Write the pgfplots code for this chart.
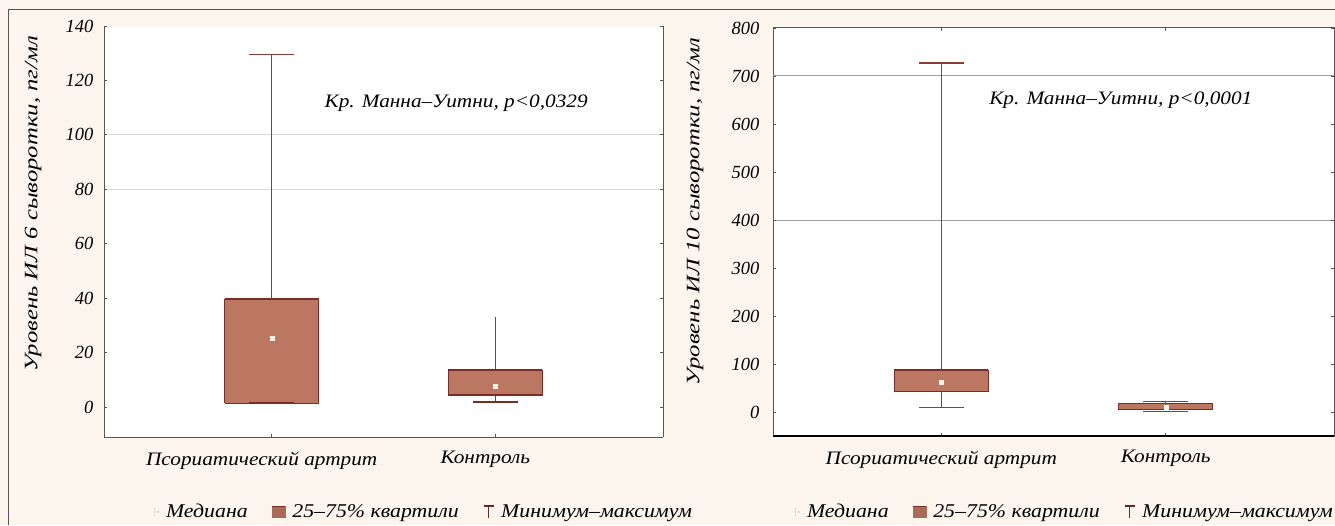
\documentclass[border=0pt]{standalone}
\usepackage{fontspec}
\setmainfont{Liberation Serif}
\newfontfamily\wideserif{Liberation Serif}[FakeStretch=1.12]
\newfontfamily\tallserif{Liberation Serif}[FakeStretch=1.3]
\usepackage{pgfplots}
\pgfplotsset{compat=1.18}
\definecolor{bg}{RGB}{251,245,237}
\definecolor{boxfill}{RGB}{187,119,98}
\definecolor{boxedge}{RGB}{120,45,38}
\definecolor{whisk}{RGB}{140,60,55}
\definecolor{spine}{RGB}{85,85,85}
\definecolor{gridc}{RGB}{215,215,215}
\definecolor{medc}{RGB}{255,246,230}
\newcommand{\fs}{\wideserif\fontsize{19}{22}\selectfont\itshape}
\newcommand{\fleg}{\wideserif\fontsize{19.5}{22}\selectfont\itshape}
\newcommand{\fyl}{\tallserif\fontsize{19}{22}\selectfont\itshape}
\newcommand{\fnum}{\rmfamily\fontsize{18.5}{20}\selectfont\itshape}
\pgfplotsset{
  mybox/.style={
    scale only axis,
    axis background/.style={fill=white},
    xmin=0.25, xmax=2.75,
    xtick={1,2},
    xticklabels={Псориатический артрит, Контроль},
    tick align=inside,
    major tick length=3pt,
    tick style={spine, line width=0.8pt},
    axis line style={spine, line width=1pt},
    yticklabel style={font=\fnum},
    xticklabel style={font=\fs},
    /pgf/number format/assume math mode=true,
    clip=false,
    major grid style={gridc, line width=1pt},
    extra y tick labels={},
    extra y tick style={grid=major},
    legend columns=3,
    legend cell align=left,
    legend style={draw=none, fill=none, font=\fleg,
      /tikz/every even column/.append style={column sep=22pt},
      /tikz/every odd column/.append style={column sep=5pt}},
  },
  boxst/.style={fill=boxfill, draw=boxedge, line width=0.8pt, forget plot},
  topst/.style={draw=boxedge, line width=1.5pt, forget plot},
  whst/.style={draw=whisk, line width=1.3pt, forget plot},
  medst/.style={forget plot, only marks, mark=square*, mark size=2pt,
    color=medc, mark options={fill=medc, draw=medc}},
  medimg/.style={legend image code/.code={
      \draw[gray!30, line width=0.8pt] (1pt,-4pt) -- (1pt,4pt);
      \fill[gray!35] (5pt,0pt) circle (0.9pt);}},
  quartimg/.style={legend image code/.code={
      \fill[boxfill!90!black] (0pt,-5.5pt) rectangle (13pt,5.5pt);
      \draw[boxedge, line width=0.6pt] (0pt,5.5pt) -- (13pt,5.5pt);}},
  whiskimg/.style={legend image code/.code={
      \draw[whisk!70!black, line width=1.4pt] (1pt,6pt) -- (11pt,6pt) (6pt,6pt) -- (6pt,-6pt);}},
}
\begin{document}
\begin{tikzpicture}
\fill[bg] (0pt,0pt) rectangle (1335pt,525pt);
\useasboundingbox (0pt,0pt) rectangle (1335pt,525pt);
\draw[spine, line width=1pt] (8pt,0pt) -- (8pt,515pt) -- (1335pt,515pt);

% ---------- left panel: IL-6
\begin{axis}[mybox,
  at={(104pt,88pt)}, anchor=south west,
  width=559pt, height=411pt,
  ymin=-11, ymax=140,
  ytick={0,20,...,140},
  extra y ticks={80,100},
  axis x line*=bottom, axis y line*=box,
  yticklabel style={xshift=-7pt},
  xticklabel style={xshift=-10pt, yshift=-11pt},
  legend style={at={(axis description cs:0.572,-0.182)}, anchor=center},
]
\addlegendimage{medimg}
\addlegendentry{Медиана}
\addlegendimage{quartimg}
\addlegendentry{25–75\% квартили}
\addlegendimage{whiskimg}
\addlegendentry{Минимум–максимум}
% Psoriatic arthritis: min 1.5, Q1 1.5, median 25.4, Q3 39.7, max 129.4
\addplot[whst] coordinates {(1,39.7) (1,129.4)};
\addplot[whst] coordinates {(0.9,129.4) (1.1,129.4)};
\addplot[boxst] coordinates {(0.79,1.5) (1.21,1.5) (1.21,39.7) (0.79,39.7) (0.79,1.5)};
\addplot[topst] coordinates {(0.79,39.7) (1.21,39.7)};
\addplot[topst] coordinates {(0.9,1.5) (1.1,1.5)};
% Control: min 1.8, Q1 4.4, median 7.7, Q3 13.6, max 33
\addplot[whst] coordinates {(2,13.6) (2,33)};
\addplot[whst] coordinates {(2,4.4) (2,1.8)};
\addplot[topst] coordinates {(1.9,1.8) (2.1,1.8)};
\addplot[boxst] coordinates {(1.79,4.4) (2.21,4.4) (2.21,13.6) (1.79,13.6) (1.79,4.4)};
\addplot[topst] coordinates {(1.79,13.6) (2.21,13.6)};
\addplot[topst] coordinates {(1.79,4.4) (2.21,4.4)};
\addplot[medst] coordinates {(1,25.4) (2,7.7)};
\node[font=\fs] at (axis description cs:0.63,0.812) {Кр. Манна–Уитни, p<0,0329};
\node[font=\fyl, rotate=90] at (axis description cs:-0.127,0.567) {Уровень ИЛ 6 сыворотки, пг/мл};
\end{axis}

% ---------- right panel: IL-10
\begin{axis}[mybox,
  at={(773pt,89pt)}, anchor=south west,
  width=561pt, height=408pt,
  ymin=-50, ymax=800,
  ytick={0,100,...,800},
  extra y ticks={400,700},
  major grid style={gray!75, line width=1pt},
  yticklabel style={xshift=-10pt},
  xticklabel style={yshift=-11pt},
  legend style={at={(axis description cs:0.52,-0.186)}, anchor=center},
]
\addlegendimage{medimg}
\addlegendentry{Медиана}
\addlegendimage{quartimg}
\addlegendentry{25–75\% квартили}
\addlegendimage{whiskimg}
\addlegendentry{Минимум–максимум}
% Psoriatic arthritis: min 10, Q1 42, median 62, Q3 87, max 727
\addplot[whst] coordinates {(1,87) (1,727)};
\addplot[whst] coordinates {(0.9,727) (1.1,727)};
\addplot[whst] coordinates {(1,42) (1,10)};
\addplot[whst] coordinates {(0.9,10) (1.1,10)};
\addplot[boxst] coordinates {(0.79,42) (1.21,42) (1.21,87) (0.79,87) (0.79,42)};
\addplot[topst] coordinates {(0.79,87) (1.21,87)};
% Control: min 1, Q1 5, median 9, Q3 17, max 22
\addplot[whst] coordinates {(2,17) (2,22)};
\addplot[whst] coordinates {(1.9,22) (2.1,22)};
\addplot[whst] coordinates {(1.9,1) (2.1,1)};
\addplot[boxst] coordinates {(1.79,5) (2.21,5) (2.21,17) (1.79,17) (1.79,5)};
\addplot[medst] coordinates {(1,62) (2,9)};
\draw[black, line width=1.6pt] (axis description cs:0,0) -- (axis description cs:1,0);
\node[font=\fs] at (axis description cs:0.62,0.824) {Кр. Манна–Уитни, p<0,0001};
\node[font=\fyl, rotate=90] at (axis description cs:-0.139,0.551) {Уровень ИЛ 10 сыворотки, пг/мл};
\end{axis}
\end{tikzpicture}
\end{document}
